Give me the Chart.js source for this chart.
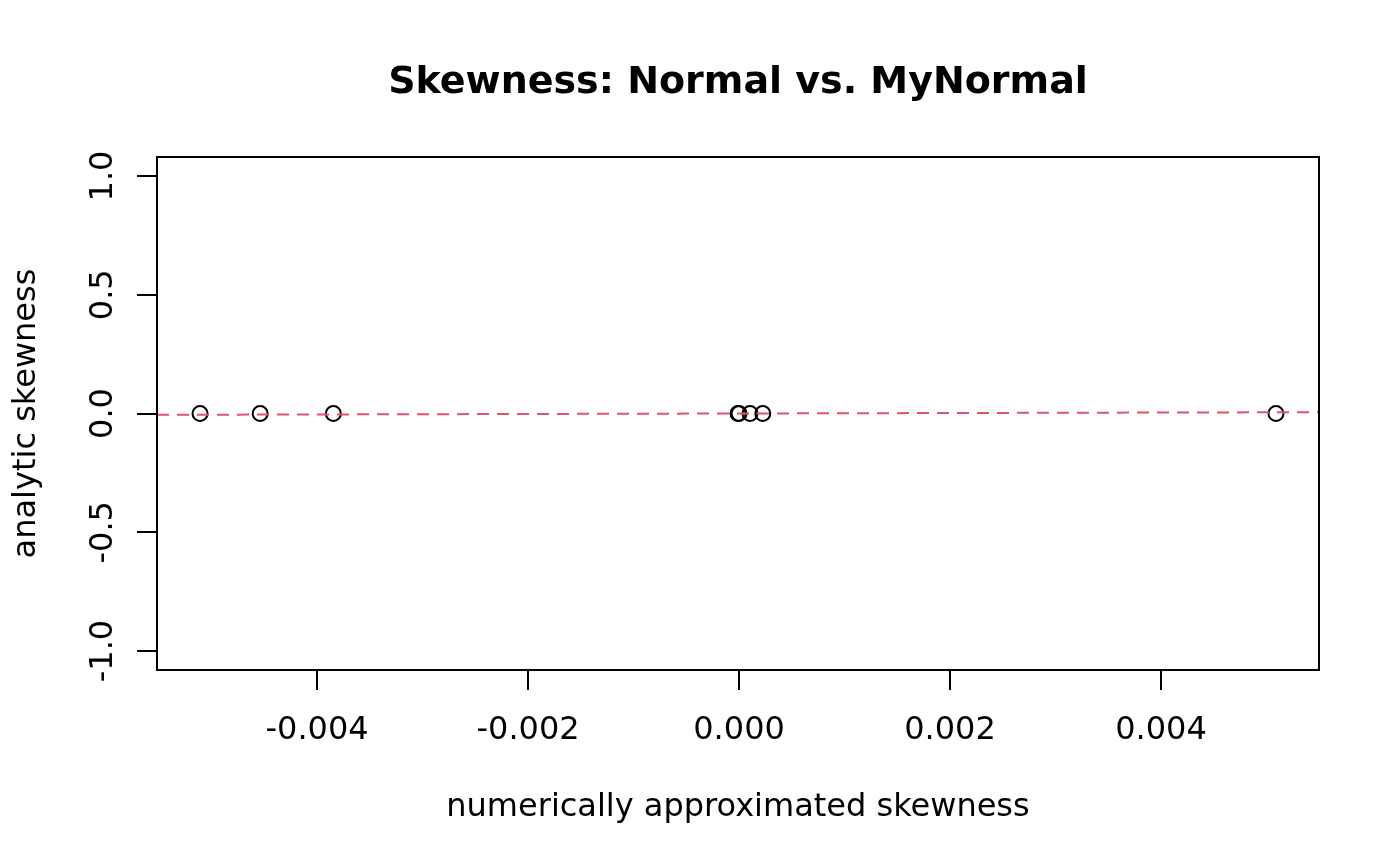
<!DOCTYPE html>
<html>
<head>
<meta charset="utf-8">
<script src="https://cdn.jsdelivr.net/npm/chart.js@4.4.1/dist/chart.umd.min.js"></script>
<style>
  html, body { margin: 0; padding: 0; background: #fff; }
  canvas { display: block; }
</style>
</head>
<body>
<canvas id="skewChart" width="1400" height="866"></canvas>
<script>
// numerical vs analytic skewness
const numericSkew = [-0.00511, -0.00454, -0.003846, -0.00001, 0.0, 0.000104, 0.000225, 0.00509];
const analyticSkew = [0, 0, 0, 0, 0, 0, 0, 0];

const xTicks = [-0.004, -0.002, 0.000, 0.002, 0.004];
const yTicks = [-1.0, -0.5, 0.0, 0.5, 1.0];
const xLimits = [-0.005518, 0.005498];
const yLimits = [-1.08, 1.08];

const FONT = '"DejaVu Sans", sans-serif';

const points = numericSkew.map((x, i) => ({ x: x, y: analyticSkew[i] }));
// abline(0, 1) across the whole x range
const identity = xLimits.map(v => ({ x: v, y: v }));

const rPlot = {
  id: "rPlot",
  afterDraw(chart) {
    const ctx = chart.ctx;
    const a = chart.chartArea;
    const xs = chart.scales.x;
    const ys = chart.scales.y;
    ctx.save();
    ctx.strokeStyle = "#000";
    ctx.lineWidth = 2;
    ctx.strokeRect(a.left, a.top, a.right - a.left, a.bottom - a.top);

    ctx.fillStyle = "#000";
    ctx.font = "bold 38px " + FONT;
    ctx.textAlign = "center";
    ctx.textBaseline = "alphabetic";
    ctx.fillText("Skewness: Normal vs. MyNormal", (a.left + a.right) / 2, 93);

    ctx.font = "32px " + FONT;
    xTicks.forEach(v => {
      ctx.fillText(v.toFixed(3), xs.getPixelForValue(v), 739);
    });
    ctx.fillText("numerically approximated skewness", (a.left + a.right) / 2, 816);

    yTicks.forEach(v => {
      ctx.save();
      ctx.translate(112, ys.getPixelForValue(v));
      ctx.rotate(-Math.PI / 2);
      ctx.fillText(v.toFixed(1), 0, 0);
      ctx.restore();
    });
    ctx.save();
    ctx.translate(35, (a.top + a.bottom) / 2);
    ctx.rotate(-Math.PI / 2);
    ctx.fillText("analytic skewness", 0, 0);
    ctx.restore();
    ctx.restore();
  }
};

function axisOpts(lim, ticks, isX) {
  return {
    type: "linear",
    min: lim[0],
    max: lim[1],
    afterBuildTicks: s => { s.ticks = ticks.map(v => ({ value: v })); },
    afterFit: s => { if (isX) s.height = 196; else s.width = 157; },
    ticks: { display: false },
    border: { display: false },
    grid: {
      drawOnChartArea: false,
      drawTicks: true,
      tickLength: 20,
      color: "#000",
      lineWidth: 2
    }
  };
}

new Chart(document.getElementById("skewChart").getContext("2d"), {
  type: "scatter",
  data: {
    datasets: [
      {
        type: "line",
        data: identity,
        borderColor: "#DF536B",
        borderWidth: 2,
        borderDash: [12, 8],
        pointRadius: 0,
        fill: false
      },
      {
        data: points,
        pointStyle: "circle",
        pointRadius: 7.5,
        pointBorderWidth: 2,
        pointBorderColor: "#000",
        pointBackgroundColor: "rgba(0,0,0,0)"
      }
    ]
  },
  options: {
    responsive: false,
    animation: false,
    devicePixelRatio: 1,
    layout: { padding: { left: 0, top: 157, right: 81, bottom: 0 } },
    plugins: {
      legend: { display: false },
      tooltip: { enabled: false },
      title: { display: false }
    },
    scales: {
      x: axisOpts(xLimits, xTicks, true),
      y: axisOpts(yLimits, yTicks, false)
    }
  },
  plugins: [rPlot]
});
</script>
</body>
</html>
